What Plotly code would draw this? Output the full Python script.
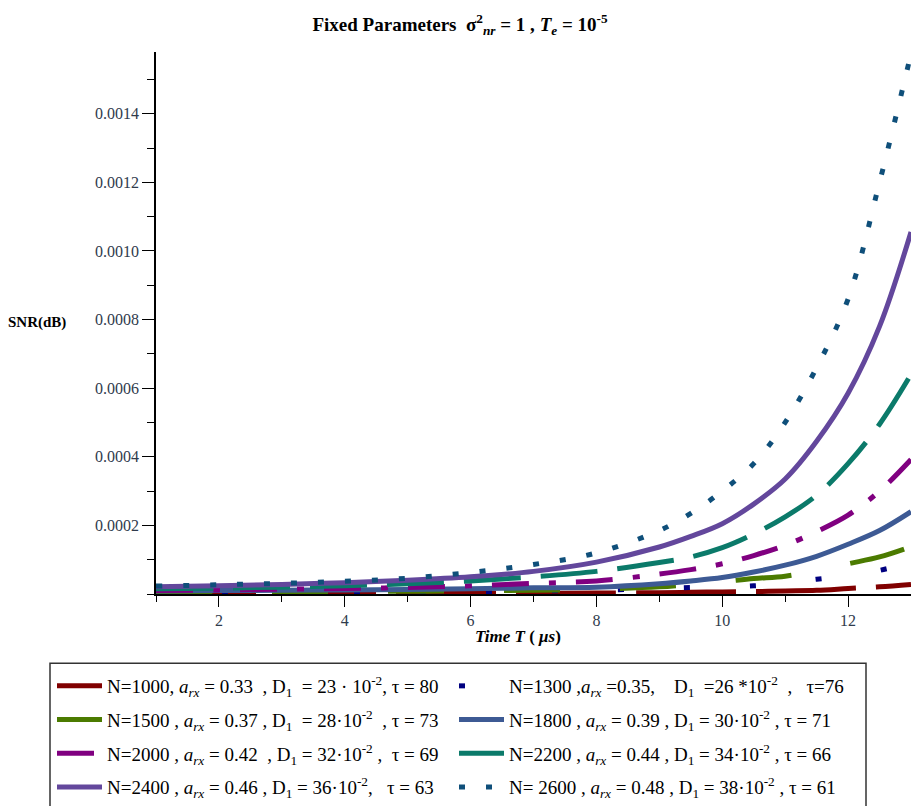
import plotly.graph_objects as go

# ---- data ----
T = [1, 2, 3, 4, 5, 6, 7, 8, 9, 9.5, 10, 10.5, 11, 11.5, 12, 12.5, 13]

snr_1000 = [0.000002, 0.000002, 0.000002, 0.000002, 0.000002, 0.000002, 0.000002, 0.000003,
            0.000004, 0.000005, 0.000006, 0.000007, 0.000009, 0.000011, 0.000016, 0.000021, 0.000028]
snr_1300 = [0.000004, 0.000004, 0.000005, 0.000005, 0.000006, 0.000007, 0.000009, 0.000011,
            0.000016, 0.000019, 0.000022, 0.000024, 0.000032, 0.000043, 0.000052, 0.000069, 0.000090]
snr_1500 = [0.000005, 0.000006, 0.000006, 0.000007, 0.000008, 0.000009, 0.000011, 0.000014,
            0.000021, 0.000028, 0.000036, 0.000045, 0.000052, 0.000068, 0.000088, 0.000108, 0.000138]
snr_1800 = [0.000009, 0.000010, 0.000011, 0.000012, 0.000013, 0.000015, 0.000018, 0.000020,
            0.000030, 0.000038, 0.000048, 0.000064, 0.000084, 0.000110, 0.000145, 0.000185, 0.000240]
snr_2000 = [0.000010, 0.000012, 0.000014, 0.000016, 0.000019, 0.000024, 0.000031, 0.000038,
            0.000058, 0.000071, 0.000088, 0.000112, 0.000142, 0.000182, 0.000230, 0.000300, 0.000392]
snr_2200 = [0.000015, 0.000017, 0.000020, 0.000024, 0.000030, 0.000038, 0.000050, 0.000066,
            0.000092, 0.000108, 0.000135, 0.000175, 0.000225, 0.000288, 0.000380, 0.000495, 0.000640]
snr_2400 = [0.000021, 0.000024, 0.000028, 0.000033, 0.000040, 0.000050, 0.000066, 0.000093,
            0.000137, 0.000168, 0.000205, 0.000262, 0.000335, 0.000445, 0.000585, 0.000780, 0.001055]
snr_2600 = [0.000023, 0.000027, 0.000031, 0.000037, 0.000046, 0.000063, 0.000086, 0.000120,
            0.000185, 0.000235, 0.000300, 0.000380, 0.000500, 0.000660, 0.000860, 0.001200, 0.001575]

labels = [
    "N=1000, <i>a</i><sub><i>rx</i></sub> = 0.33  , D<sub>1</sub>  = 23 · 10<sup>-2</sup>, τ = 80",
    "N=1300 ,<i>a</i><sub><i>rx</i></sub> =0.35,    D<sub>1</sub>  =26 *10<sup>-2</sup>  ,   τ=76",
    "N=1500 , <i>a</i><sub><i>rx</i></sub> = 0.37 , D<sub>1</sub>  = 28·10<sup>-2</sup>  , τ = 73",
    "N=1800 , <i>a</i><sub><i>rx</i></sub> = 0.39 , D<sub>1</sub> = 30·10<sup>-2</sup> , τ = 71",
    "N=2000 , <i>a</i><sub><i>rx</i></sub> = 0.42  , D<sub>1</sub> = 32·10<sup>-2</sup> ,  τ = 69",
    "N=2200 , <i>a</i><sub><i>rx</i></sub> = 0.44 , D<sub>1</sub> = 34·10<sup>-2</sup> , τ = 66",
    "N=2400 , <i>a</i><sub><i>rx</i></sub> = 0.46 , D<sub>1</sub> = 36·10<sup>-2</sup>,   τ = 63",
    "N= 2600 , <i>a</i><sub><i>rx</i></sub> = 0.48 , D<sub>1</sub> = 38·10<sup>-2</sup> , τ = 61",
]
series = [snr_1000, snr_1300, snr_1500, snr_1800, snr_2000, snr_2200, snr_2400, snr_2600]
colors = ["#800000", "#000080", "#4b7b00", "#3d5a94", "#800080", "#0b7a6a", "#63479c", "#0f4f7a"]
dashes = ["100px,20px", "6px,60px", "56px,60px", "solid", "37px,20px,7px,20px",
          "57px,20px", "solid", "6px,21px"]
legend_ids = ["legend", "legend2", "legend", "legend2", "legend", "legend2", "legend", "legend2"]

SERIF = "Liberation Serif, Times New Roman, serif"

fig = go.Figure()
for i, (y, lab, c, d, lg) in enumerate(zip(series, labels, colors, dashes, legend_ids)):
    fig.add_trace(go.Scatter(
        x=T, y=y, mode="lines", name=lab,
        line=dict(color=c, width=5, dash=d, shape="spline", smoothing=1.0),
        legend=lg, legendgroup=f"g{i}",
    ))

W, H = 911, 806
L, R, TOP, B = 156, 0, 52, 207
pw = W - L - R
ph = H - TOP - B

def px_x(x):
    return (x - L) / pw

def px_y(y):
    return (H - B - y) / ph

legend_common = dict(
    orientation="v", xanchor="left", yanchor="top",
    font=dict(family=SERIF, size=19, color="#000000"),
    bgcolor="rgba(0,0,0,0)", borderwidth=0,
    itemwidth=45, tracegroupgap=6, itemclick=False, itemdoubleclick=False,
)

fig.update_layout(
    width=W, height=H,
    margin=dict(l=L, r=R, t=TOP, b=B, pad=0),
    paper_bgcolor="white", plot_bgcolor="white",
    showlegend=True,
    legend=dict(x=px_x(52), y=px_y(673), **legend_common),
    legend2=dict(x=px_x(454), y=px_y(673), **legend_common),
    xaxis=dict(
        range=[1, 13], showgrid=False, zeroline=False,
        showline=True, linecolor="#000000", linewidth=1.5,
        ticks="outside", ticklen=11, tickwidth=1.2, tickcolor="#000000",
        tick0=0, dtick=2,
        minor=dict(dtick=1, tick0=0, ticks="outside", ticklen=6, tickwidth=1.2, tickcolor="#000000"),
        tickfont=dict(family=SERIF, size=16, color="#2f3b4c"),
    ),
    yaxis=dict(
        range=[0, 0.00158], showgrid=False, zeroline=False,
        showline=True, linecolor="#000000", linewidth=1.5,
        ticks="outside", ticklen=12, tickwidth=1.2, tickcolor="#000000",
        tickvals=[0.0002, 0.0004, 0.0006, 0.0008, 0.0010, 0.0012, 0.0014],
        ticktext=["0.0002", "0.0004", "0.0006", "0.0008", "0.0010", "0.0012", "0.0014"],
        minor=dict(dtick=0.0001, tick0=0, ticks="outside", ticklen=7, tickwidth=1.2, tickcolor="#000000"),
        tickfont=dict(family=SERIF, size=16, color="#2f3b4c"),
    ),
    title=dict(
        text="<b>Fixed Parameters  σ<sup>2</sup><sub><i>nr</i></sub> = 1 , <i>T</i><sub><i>e</i></sub> = 10<sup>-5</sup></b>",
        font=dict(family=SERIF, size=19, color="#000000"),
        xref="container", yref="container", x=460 / W, y=1 - 24 / H,
        xanchor="center", yanchor="middle",
    ),
    annotations=[
        dict(text="<b>SNR(dB)</b>", xref="paper", yref="paper",
             x=px_x(37), y=px_y(325), xanchor="center", yanchor="middle",
             showarrow=False, font=dict(family=SERIF, size=15, color="#000000")),
        dict(text="<b><i>Time T</i> ( <i>μs</i>)</b>", xref="paper", yref="paper",
             x=px_x(518), y=px_y(642), xanchor="center", yanchor="middle",
             showarrow=False, font=dict(family=SERIF, size=17, color="#000000")),
    ],
    shapes=[
        dict(type="rect", xref="paper", yref="paper",
             x0=px_x(50), x1=px_x(866), y0=px_y(669), y1=px_y(830),
             line=dict(color="#333333", width=1.5), fillcolor="rgba(0,0,0,0)", layer="below"),
    ],
)

fig.write_html("out.html")
